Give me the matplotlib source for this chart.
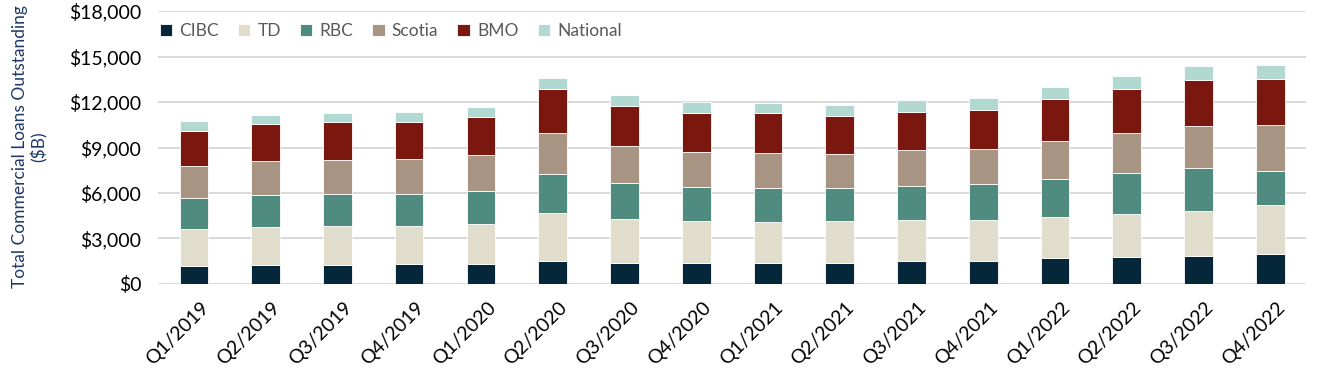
import matplotlib

matplotlib.use("Agg")
import matplotlib.pyplot as plt
import matplotlib.transforms as mtransforms
import numpy as np
from matplotlib.ticker import FuncFormatter

plt.rcParams["font.family"] = ["Lato", "DejaVu Sans"]

quarters = [
    "Q1/2019", "Q2/2019", "Q3/2019", "Q4/2019",
    "Q1/2020", "Q2/2020", "Q3/2020", "Q4/2020",
    "Q1/2021", "Q2/2021", "Q3/2021", "Q4/2021",
    "Q1/2022", "Q2/2022", "Q3/2022", "Q4/2022",
]

# commercial loans outstanding per bank ($B)
cibc = [1190, 1260, 1280, 1325, 1345, 1525, 1415, 1370, 1370, 1415, 1500, 1545, 1720, 1790, 1855, 1945]
td = [2410, 2495, 2515, 2515, 2580, 3135, 2870, 2805, 2695, 2715, 2695, 2650, 2695, 2850, 2980, 3245]
rbc = [2075, 2140, 2165, 2120, 2210, 2625, 2385, 2250, 2295, 2210, 2295, 2385, 2515, 2695, 2805, 2275]
scotia = [2120, 2230, 2230, 2275, 2340, 2650, 2450, 2275, 2295, 2230, 2340, 2340, 2515, 2625, 2805, 3045]
bmo = [2320, 2430, 2470, 2470, 2540, 2935, 2625, 2605, 2605, 2515, 2540, 2540, 2735, 2890, 3000, 3000]
national = [620, 620, 640, 665, 665, 705, 730, 705, 705, 730, 795, 795, 840, 885, 905, 950]

banks = ["CIBC", "TD", "RBC", "Scotia", "BMO", "National"]
series = [cibc, td, rbc, scotia, bmo, national]
colors = ["#06263a", "#e0ddcd", "#508b80", "#a89482", "#7a170e", "#b1d9d2"]

fig = plt.figure(figsize=(13.3, 3.76), dpi=100)
ax = fig.add_axes([0.1188, 0.2447, 0.8632, 0.726])

x = np.arange(len(quarters))
bottom = np.zeros(len(quarters))
for name, vals, col in zip(banks, series, colors):
    ax.bar(x, vals, 0.4, bottom=bottom, color=col, label=name,
           edgecolor="white", linewidth=0.6, zorder=3)
    bottom += np.array(vals)

ax.set_xlim(-0.5, len(quarters) - 0.5)
ax.set_ylim(0, 18000)
ax.set_yticks(np.arange(0, 18001, 3000))
ax.yaxis.set_major_formatter(FuncFormatter(lambda v, p: f"${v:,.0f}"))
ax.grid(True, axis="y", color="#d9d9d9", linewidth=1.4, zorder=0)
for s in ax.spines.values():
    s.set_visible(False)
ax.tick_params(axis="both", length=0, labelsize=14, colors="black")
ax.tick_params(axis="y", pad=12)

ax.set_xticks(x)
ax.set_xticklabels(quarters, rotation=45, ha="right", rotation_mode="anchor")
shift = mtransforms.ScaledTranslation(0.06, -0.1, fig.dpi_scale_trans)
for lbl in ax.get_xticklabels():
    lbl.set_transform(lbl.get_transform() + shift)

leg = ax.legend(loc="upper left", bbox_to_anchor=(-0.009, 1.0), ncol=6, frameon=False,
                fontsize=12.5, handlelength=0.7, handleheight=0.7,
                handletextpad=0.42, columnspacing=1.1, borderaxespad=0.3)
for t in leg.get_texts():
    t.set_color("#595959")

fig.text(30 / 1330, 0.61, "Total Commercial Loans Outstanding\n($B)", rotation=90,
         ha="center", va="center", multialignment="center", fontsize=12.5,
         color="#1f3864", linespacing=1.15)

fig.savefig("out.png", dpi=100, facecolor="white")
